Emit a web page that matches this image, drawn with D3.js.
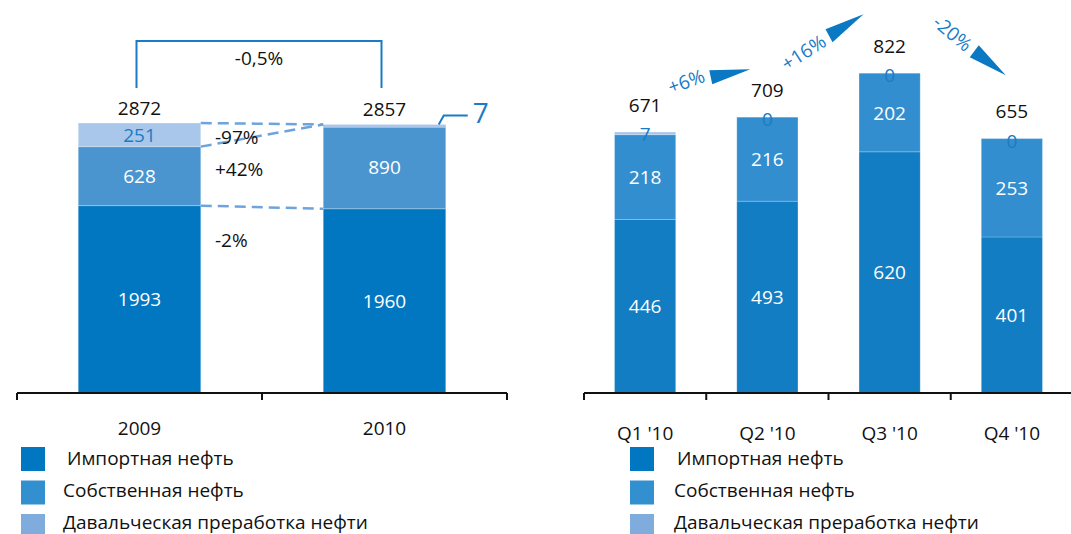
<!DOCTYPE html>
<html>
<head>
<meta charset="utf-8">
<script src="https://cdn.jsdelivr.net/npm/d3@7"></script>
<style>
  body { margin: 0; background: #fff; }
  text { font-family: "Open Sans", sans-serif; }
</style>
</head>
<body>
<script>
// --- data ---
const years = ["2009", "2010"];
const yearImport = [1993, 1960];
const yearOwn = [628, 890];
const yearToll = [251, 7];
const yearTotal = [2872, 2857];
const yearChange = "-0,5%";
const segChanges = ["-97%", "+42%", "-2%"];

const quarters = ["Q1 '10", "Q2 '10", "Q3 '10", "Q4 '10"];
const qImport = [446, 493, 620, 401];
const qOwn = [218, 216, 202, 253];
const qToll = [7, 0, 0, 0];
const qTotal = [671, 709, 822, 655];
const qChanges = ["+6%", "+16%", "-20%"];

const seriesNames = ["Импортная нефть", "Собственная нефть", "Давальческая преработка нефти"];
const keys = ["imp", "own", "toll"];

let svg = d3.select("body").append("svg")
  .attr("width", 1071).attr("height", 534);

const fs = 19;
const axisY = 393;

function rows(cats, a, b, c) {
  return cats.map((k, i) => ({ cat: k, imp: a[i], own: b[i], toll: c[i] }));
}

function drawAxis(g, x, x0, x1) {
  g.append("line").attr("x1", x0).attr("x2", x1)
    .attr("y1", axisY).attr("y2", axisY)
    .attr("stroke", "#111").attr("stroke-width", 2);
  let edges = x.domain().map(d => x(d) - x.step() * x.paddingOuter());
  edges.push(edges[edges.length - 1] + x.step());
  g.selectAll(null).data(edges).enter().append("line")
    .attr("x1", d => d).attr("x2", d => d)
    .attr("y1", axisY).attr("y2", axisY + 7)
    .attr("stroke", "#111").attr("stroke-width", 2);
}

// ================= left chart =================
let left = svg.append("g");
let xL = d3.scaleBand().domain(years).range([17, 507]).paddingInner(0.5).paddingOuter(0.25);
let yL = d3.scaleLinear().domain([0, 3000]).range([axisY, 111]);
let leftColors = { imp: "#0077c0", own: "#4a95d0", toll: "#a9c7ea" };

let stackL = d3.stack().keys(keys)(rows(years, yearImport, yearOwn, yearToll));
left.append("g").selectAll("g").data(stackL).enter().append("g")
  .attr("fill", d => leftColors[d.key])
  .selectAll("rect").data(d => d).enter().append("rect")
  .attr("x", d => xL(d.data.cat))
  .attr("width", xL.bandwidth())
  .attr("y", d => yL(d[1]))
  .attr("height", d => Math.max(yL(d[0]) - yL(d[1]), 3))
  .attr("stroke", "rgba(255,255,255,0.25)").attr("stroke-width", 1);

drawAxis(left, xL, 17, 507);

left.selectAll(null).data(years).enter().append("text")
  .attr("x", d => xL(d) + xL.bandwidth() / 2).attr("y", 435)
  .attr("text-anchor", "middle").attr("font-size", fs).attr("fill", "#111")
  .text(d => d);

// totals
left.selectAll(null).data(years).enter().append("text")
  .attr("x", d => xL(d) + xL.bandwidth() / 2)
  .attr("y", (d, i) => yL(yearTotal[i]) - 8)
  .attr("text-anchor", "middle").attr("font-size", fs).attr("fill", "#111")
  .text((d, i) => yearTotal[i]);

// inside labels
years.forEach((yr, i) => {
  let cx = xL(yr) + xL.bandwidth() / 2;
  left.append("text").attr("x", cx).attr("y", yL(yearImport[i] / 2) + 7)
    .attr("text-anchor", "middle").attr("font-size", fs).attr("fill", "#fff")
    .text(yearImport[i]);
  left.append("text").attr("x", cx).attr("y", yL(yearImport[i] + yearOwn[i] / 2) + 7)
    .attr("text-anchor", "middle").attr("font-size", fs).attr("fill", "#fff")
    .text(yearOwn[i]);
});
{
  let cx = xL(years[0]) + xL.bandwidth() / 2;
  left.append("text").attr("x", cx)
    .attr("y", yL(yearImport[0] + yearOwn[0] + yearToll[0] / 2) + 7)
    .attr("text-anchor", "middle").attr("font-size", fs).attr("fill", "#1a7cc4")
    .text(yearToll[0]);
  // small tolling value of 2010 with leader
  let xr = xL(years[1]) + xL.bandwidth();
  let yt = yL(yearTotal[1]);
  left.append("path")
    .attr("d", `M${xr - 7},${yt} L${xr - 2},${yt - 9} H${xr + 22}`)
    .attr("fill", "none").attr("stroke", "#1a7cc4").attr("stroke-width", 2);
  left.append("text").attr("x", xr + 35).attr("y", yt - 1)
    .attr("text-anchor", "middle").attr("font-size", 28).attr("fill", "#1a7cc4")
    .text(yearToll[1]);
}

// bracket with total change
{
  let c0 = xL(years[0]) + xL.bandwidth() / 2 - 3;
  let c1 = xL(years[1]) + xL.bandwidth() / 2 - 3;
  left.append("path")
    .attr("d", `M${c0},88 V41 H${c1} V88`)
    .attr("fill", "none").attr("stroke", "#1a7cc4").attr("stroke-width", 2);
  left.append("text").attr("x", (c0 + c1) / 2).attr("y", 65)
    .attr("text-anchor", "middle").attr("font-size", fs).attr("fill", "#111")
    .text(yearChange);
}

// dashed connectors
{
  let xa = xL(years[0]) + xL.bandwidth();
  let xb = xL(years[1]);
  let conns = [
    [yL(yearTotal[0]), yL(yearTotal[1])],
    [yL(yearImport[0] + yearOwn[0]), yL(yearTotal[1])],
    [yL(yearImport[0]), yL(yearImport[1])]
  ];
  left.selectAll(null).data(conns).enter().append("line")
    .attr("x1", xa).attr("x2", xb)
    .attr("y1", d => d[0]).attr("y2", d => d[1])
    .attr("stroke", "#6fa3dc").attr("stroke-width", 2.5)
    .attr("stroke-dasharray", "11,6");
  let labY = [144, 176, 247];
  left.selectAll(null).data(segChanges).enter().append("text")
    .attr("x", 215).attr("y", (d, i) => labY[i])
    .attr("font-size", fs).attr("fill", "#111")
    .text(d => d);
}

// ================= right chart =================
let right = svg.append("g");
let xR = d3.scaleBand().domain(quarters).range([584, 1073]).paddingInner(0.5).paddingOuter(0.25);
let yR = d3.scaleLinear().domain([0, 1000]).range([axisY, 4]);
let rightColors = { imp: "#127dc2", own: "#338ecf", toll: "#a9c7ea" };

let stackR = d3.stack().keys(keys)(rows(quarters, qImport, qOwn, qToll));
right.append("g").selectAll("g").data(stackR).enter().append("g")
  .attr("fill", d => rightColors[d.key])
  .selectAll("rect").data(d => d).enter().append("rect")
  .attr("x", d => xR(d.data.cat))
  .attr("width", xR.bandwidth())
  .attr("y", d => yR(d[1]))
  .attr("height", d => yR(d[0]) - yR(d[1]))
  .attr("stroke", "rgba(255,255,255,0.2)").attr("stroke-width", 1);

drawAxis(right, xR, 584, 1071);

right.selectAll(null).data(quarters).enter().append("text")
  .attr("x", d => xR(d) + xR.bandwidth() / 2).attr("y", 440)
  .attr("text-anchor", "middle").attr("font-size", fs).attr("fill", "#111")
  .text(d => d);

quarters.forEach((q, i) => {
  let cx = xR(q) + xR.bandwidth() / 2;
  right.append("text").attr("x", cx).attr("y", yR(qTotal[i]) - 20)
    .attr("text-anchor", "middle").attr("font-size", fs).attr("fill", "#111")
    .text(qTotal[i]);
  right.append("text").attr("x", cx).attr("y", yR(qImport[i] / 2) + 7)
    .attr("text-anchor", "middle").attr("font-size", fs).attr("fill", "#fff")
    .text(qImport[i]);
  right.append("text").attr("x", cx).attr("y", yR(qImport[i] + qOwn[i] / 2) + 7)
    .attr("text-anchor", "middle").attr("font-size", fs).attr("fill", "#fff")
    .text(qOwn[i]);
  right.append("text").attr("x", cx).attr("y", yR(qImport[i] + qOwn[i] + qToll[i]) + 9)
    .attr("text-anchor", "middle").attr("font-size", fs).attr("fill", "#1a7cc4")
    .text(qToll[i]);
});

// change arrows between quarters
const arrowShapes = [
  { tri: [[3, -47], [6, -33], [44, -48]], txt: [-20, -36], rot: -20 },
  { tri: [[-3, -44], [4, -31], [35, -59]], txt: [-25, -21], rot: -33 },
  { tri: [[28, -28], [19, -16], [55, 2]], txt: [2, -40], rot: 40 }
];
qChanges.forEach((c, i) => {
  let mx = (xR(quarters[i]) + xR(quarters[i + 1])) / 2 + xR.bandwidth() / 2;
  let my = yR(Math.max(qTotal[i], qTotal[i + 1]));
  let a = arrowShapes[i];
  let g = right.append("g").attr("transform", `translate(${mx},${my})`);
  g.append("path").attr("d", "M" + a.tri.map(p => p.join(",")).join("L") + "Z")
    .attr("fill", "#0a78c2");
  g.append("text")
    .attr("transform", `translate(${a.txt[0]},${a.txt[1]}) rotate(${a.rot})`)
    .attr("text-anchor", "middle").attr("dominant-baseline", "central")
    .attr("font-size", fs).attr("fill", "#1a7cc4")
    .text(c);
});

// ================= legends =================
const legendColors = ["#0077c0", "#3390d0", "#80acdd"];
function legend(x0, tx) {
  let g = svg.append("g");
  g.selectAll("rect").data(seriesNames).enter().append("rect")
    .attr("x", x0).attr("y", (d, i) => 447 + i * 33.5)
    .attr("width", 24).attr("height", 24)
    .attr("fill", (d, i) => legendColors[i]);
  g.selectAll("text").data(seriesNames).enter().append("text")
    .attr("x", (d, i) => tx[i]).attr("y", (d, i) => 465 + i * 32)
    .attr("font-size", fs).attr("fill", "#111")
    .text(d => d);
}
legend(21, [67, 63, 63]);
legend(630, [677, 674, 674]);
</script>
</body>
</html>
